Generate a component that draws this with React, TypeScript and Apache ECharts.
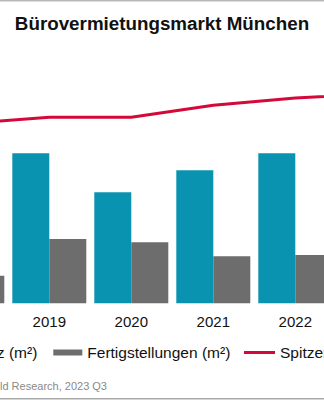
import React, { useEffect, useRef } from "react";
import * as echarts from "echarts";

const categories = ["2018", "2019", "2020", "2021", "2022", "2023"];
const flaechenumsatz = [950000, 1000000, 740000, 887000, 1000000, 500000];
const fertigstellungen = [184000, 429000, 407000, 313000, 322000, 250000];
const spitzenmiete = [40.0, 41.0, 41.0, 43.0, 44.2, 45.0];

const FONT = "'Liberation Sans', Arial, sans-serif";
const OFFSET = 145;
const W = 614;

export default function App() {
  const ref = useRef<HTMLDivElement>(null);
  useEffect(() => {
    if (!ref.current) return;
    const chart = echarts.init(ref.current, undefined, { renderer: "svg" });
    chart.setOption({
      animation: false,
      backgroundColor: "#ffffff",
      textStyle: { fontFamily: FONT },
      title: {
        text: "Bürovermietungsmarkt München",
        left: "center",
        top: 13.5,
        padding: 0,
        textStyle: { fontFamily: FONT, fontSize: 18.8, fontWeight: "bold", color: "#111" },
      },
      grid: { left: 71.3, right: 50.7, top: 93.3, bottom: 96.7 },
      legend: [
        {
          data: ["Flächenumsatz (m²)"],
          left: 10.5,
          top: 344.5,
          padding: 0,
          itemWidth: 29,
          itemHeight: 6,
          icon: "rect",
          textStyle: { fontFamily: FONT, fontSize: 15.5, color: "#111" },
        },
        {
          data: ["Fertigstellungen (m²)"],
          left: 53.3 + OFFSET,
          top: 344.5,
          padding: 0,
          itemWidth: 29,
          itemHeight: 6,
          icon: "rect",
          textStyle: { fontFamily: FONT, fontSize: 15.5, color: "#111" },
        },
        {
          data: ["Spitzenmiete (€/m²)"],
          left: 244 + OFFSET,
          top: 344.5,
          padding: 0,
          itemWidth: 31,
          itemHeight: 3,
          icon: "rect",
          textStyle: { fontFamily: FONT, fontSize: 15.5, color: "#111" },
        },
      ],
      xAxis: {
        type: "category",
        data: categories,
        axisLine: { show: false },
        axisTick: { show: false },
        axisLabel: { fontFamily: FONT, fontSize: 15, color: "#111", margin: 11 },
      },
      yAxis: [
        { type: "value", min: 0, max: 1400000, show: false },
        { type: "value", min: 10, max: 45, show: false },
      ],
      series: [
        {
          name: "Flächenumsatz (m²)",
          type: "bar",
          data: flaechenumsatz,
          barWidth: 37,
          barGap: "0%",
          itemStyle: { color: "#0a93b0" },
        },
        {
          name: "Fertigstellungen (m²)",
          type: "bar",
          data: fertigstellungen,
          barWidth: 37,
          barGap: "0%",
          itemStyle: { color: "#6d6d6d" },
        },
        {
          name: "Spitzenmiete (€/m²)",
          type: "line",
          yAxisIndex: 1,
          data: spitzenmiete,
          symbol: "none",
          clip: false,
          lineStyle: { color: "#d4093a", width: 3 },
          itemStyle: { color: "#d4093a" },
        },
      ],
      graphic: [
        { type: "rect", shape: { x: 0, y: 0, width: W, height: 1.5 }, style: { fill: "#b8b8b8" } },
        { type: "rect", shape: { x: 0, y: 398, width: W, height: 1.5 }, style: { fill: "#a9a9a9" } },
        {
          type: "text",
          x: 107 + OFFSET,
          y: 386,
          style: {
            text: "Quelle: Cushman & Wakefield Research, 2023 Q3",
            textAlign: "right",
            textVerticalAlign: "middle",
            fontFamily: FONT,
            fontSize: 11,
            fill: "#8a8a8a",
          },
        },
      ],
    });
    return () => chart.dispose();
  }, []);
  return (
    <div
      style={{
        position: "absolute",
        left: 0,
        top: 0,
        width: 324,
        height: 400,
        overflow: "hidden",
        background: "#fff",
      }}
    >
      <div ref={ref} style={{ position: "absolute", left: -OFFSET, top: 0, width: W, height: 400 }} />
    </div>
  );
}
